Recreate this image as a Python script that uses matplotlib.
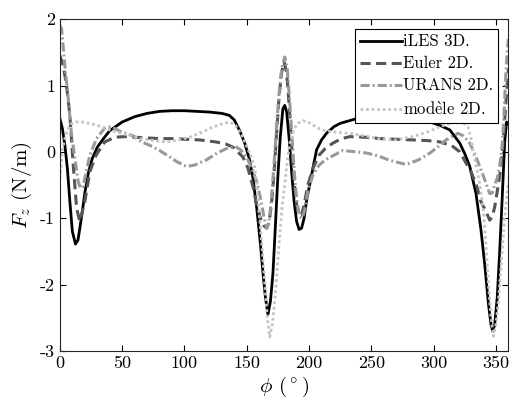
import matplotlib
matplotlib.use('Agg')
import matplotlib.pyplot as plt

plt.rcParams['font.family'] = ['cmr10', 'DejaVu Serif']
plt.rcParams['mathtext.fontset'] = 'cm'
plt.rcParams['axes.unicode_minus'] = False
plt.rcParams['axes.formatter.use_mathtext'] = False

# iLES 3D
phi_les = [0, 2, 4, 6, 8, 10, 12.5, 14.5, 16, 18, 20, 23, 26, 30, 35, 40, 50, 60, 70, 80,
           90, 100, 110, 120, 130, 136, 140, 144, 148, 152, 155, 158, 161, 163, 165, 167,
           169, 171, 173, 175, 177, 179, 180.5, 182, 184, 186, 188, 190, 192, 194, 196,
           198, 202, 206, 210, 214, 220, 225, 238, 250, 260, 270, 280, 290, 297, 305, 313,
           321, 325, 329, 334, 338, 341, 344, 346, 347.5, 349, 351, 353, 355, 357, 358.5, 360]
f_les = [0.50, 0.35, 0.10, -0.25, -0.75, -1.2, -1.39, -1.33, -1.15, -0.9, -0.62, -0.3, -0.1,
         0.07, 0.2, 0.32, 0.45, 0.53, 0.58, 0.61, 0.62, 0.62, 0.61, 0.60, 0.58, 0.55, 0.48,
         0.33, 0.15, -0.1, -0.4, -0.85, -1.4, -1.83, -2.2, -2.45, -2.25, -1.83, -1.1, -0.35,
         0.25, 0.65, 0.70, 0.6, 0.2, -0.3, -0.75, -1.05, -1.17, -1.15, -1.0, -0.73, -0.35,
         0.03, 0.18, 0.28, 0.38, 0.43, 0.50, 0.52, 0.53, 0.52, 0.50, 0.47, 0.45, 0.40, 0.33,
         0.13, -0.03, -0.22, -0.63, -1.18, -1.7, -2.3, -2.6, -2.71, -2.6, -2.2, -1.5, -0.7,
         0.15, 0.45, 0.42]

# Euler 2D
phi_eul = [0, 2.7, 5.3, 8, 10.7, 13.4, 16, 20, 24, 29, 36, 44, 52, 60, 70, 80, 90, 100, 112,
           125, 133, 139, 147, 151, 155, 158, 161, 164, 166, 168, 170, 172, 174, 176, 178,
           180, 182, 184, 186, 188, 190, 192, 194, 196, 199, 203, 208, 213, 219, 226, 233,
           245, 257, 270, 283, 295, 305, 310, 315.5, 321, 326, 330, 334, 338, 342, 345, 347,
           349, 351, 354, 356, 358, 359.7, 360]
f_eul = [1.45, 1.3, 1.0, 0.55, -0.2, -0.85, -1.05, -0.75, -0.3, -0.05, 0.15, 0.22, 0.23,
         0.22, 0.21, 0.2, 0.2, 0.19, 0.18, 0.15, 0.12, 0.07, -0.08, -0.25, -0.53, -0.8, -1.0,
         -1.12, -1.15, -1.05, -0.75, -0.3, 0.3, 0.85, 1.2, 1.35, 1.2, 0.7, 0.1, -0.45, -0.8,
         -0.95, -0.95, -0.8, -0.5, -0.25, -0.05, 0.05, 0.13, 0.2, 0.23, 0.22, 0.2, 0.19, 0.18,
         0.17, 0.15, 0.12, 0.08, 0.0, -0.17, -0.3, -0.48, -0.75, -0.9, -1.03, -0.98, -0.83,
         -0.6, -0.23, 0.2, 0.75, 1.18, 1.25]

# URANS 2D
phi_ur = [0, 1.3, 4, 6.7, 9.4, 12, 14.7, 16.5, 18.5, 20, 24, 29.4, 36, 41, 49.5, 58.8, 65.5,
          72, 80, 86, 94, 101.6, 108, 117.7, 126, 133.7, 141, 145, 150, 154, 158, 161, 164,
          166, 168, 170, 172, 174, 176, 178, 180.5, 182.5, 184.5, 186.5, 188.5, 190.5, 192.5,
          194.5, 196.5, 199, 203, 208, 213, 219, 227, 238, 247, 256.7, 265, 278, 288, 296.8,
          303, 310, 319.5, 324, 329, 333, 337, 341, 345, 347, 349, 351, 353, 355, 356, 357,
          358, 359, 360]
f_ur = [1.9, 1.86, 1.3, 0.8, 0.25, -0.1, -0.45, -0.55, -0.52, -0.4, -0.05, 0.2, 0.36, 0.38,
        0.3, 0.24, 0.15, 0.1, 0.02, -0.05, -0.15, -0.22, -0.2, -0.12, -0.02, 0.05, 0.08, 0.03,
        -0.08, -0.25, -0.45, -0.7, -1.0, -1.15, -1.05, -0.65, -0.15, 0.4, 0.9, 1.25, 1.43,
        1.25, 0.75, 0.15, -0.4, -0.78, -0.98, -1.0, -0.88, -0.6, -0.35, -0.2, -0.12, -0.06,
        0.02, 0.0, -0.02, -0.07, -0.13, -0.19, -0.12, -0.02, 0.07, 0.18, 0.28, 0.24, 0.13,
        -0.03, -0.22, -0.42, -0.63, -0.62, -0.5, -0.4, -0.22, 0.1, 0.4, 0.8, 1.2, 1.5, 1.7]

# modele 2D
phi_mod = [0, 2, 4, 6, 9, 12.8, 18, 23.5, 30, 37, 45, 55, 65, 72, 80, 86, 95, 104, 112, 120,
           128, 136, 141, 146, 150, 153, 156.4, 159, 161.8, 164.4, 166.5, 168.4, 170.5, 172.5,
           174.5, 176.5, 178.5, 180.5, 182.5, 184.5, 188, 191, 195, 199, 210, 220, 232, 245,
           258, 270, 283, 295, 305, 315, 321, 325, 327.5, 330, 331.6, 334, 337, 340, 342, 344,
           346, 348, 350, 352, 354, 356, 358, 360]
f_mod = [-0.4, 0.03, 0.2, 0.33, 0.42, 0.45, 0.45, 0.43, 0.4, 0.35, 0.3, 0.25, 0.2, 0.18, 0.16,
         0.15, 0.18, 0.22, 0.28, 0.35, 0.41, 0.45, 0.4, 0.25, 0.08, -0.05, -0.23, -0.7, -1.33,
         -1.98, -2.5, -2.79, -2.6, -2.24, -1.75, -1.23, -0.8, -0.48, -0.15, 0.13, 0.35, 0.43,
         0.47, 0.45, 0.33, 0.3, 0.28, 0.24, 0.19, 0.18, 0.23, 0.3, 0.38, 0.44, 0.45, 0.42,
         0.38, 0.2, 0.03, -0.2, -0.48, -0.9, -1.4, -2.0, -2.5, -2.78, -2.6, -2.24, -1.75,
         -1.23, -0.8, -0.45]

labels = ['iLES 3D.', 'Euler 2D.', 'URANS 2D.', r'mod$\grave{\mathrm{e}}$le 2D.']

fig = plt.figure(figsize=(5.12, 4.08), dpi=100)
ax = fig.add_axes([0.117, 0.140, 0.876, 0.813])

ax.plot(phi_les, f_les, color='black', lw=2.0, ls='-', label=labels[0])
ax.plot(phi_eul, f_eul, color='#555555', lw=2.2, ls=(0, (3.3, 1.8)), label=labels[1])
ax.plot(phi_ur, f_ur, color='#999999', lw=2.2, ls=(0, (3, 1, 0.6, 1)), label=labels[2])
ax.plot(phi_mod, f_mod, color='#c4c4c4', lw=2.0, ls=(0, (1, 1)), label=labels[3])

ax.set_xlim(0, 360)
ax.set_ylim(-3, 2)
ax.set_xticks(range(0, 351, 50))
ax.set_yticks([-3, -2, -1, 0, 1, 2])
ax.tick_params(direction='in', top=True, right=True, length=4, labelsize=13, width=0.8)
for s in ax.spines.values():
    s.set_linewidth(0.8)
    s.set_color('#262626')

ax.set_xlabel(r'$\phi$ $(^\circ)$', fontsize=15, labelpad=3)
ax.set_ylabel(r'$F_z$ (N/m)', fontsize=15, labelpad=4)

leg = ax.legend(loc='upper right', fontsize=12, handlelength=2.5, handletextpad=0.1,
                labelspacing=0.4, borderaxespad=0.6, fancybox=False, framealpha=1,
                borderpad=0.3)
leg.get_frame().set_edgecolor('black')
leg.get_frame().set_linewidth(0.8)

fig.savefig('out.png', dpi=100)
